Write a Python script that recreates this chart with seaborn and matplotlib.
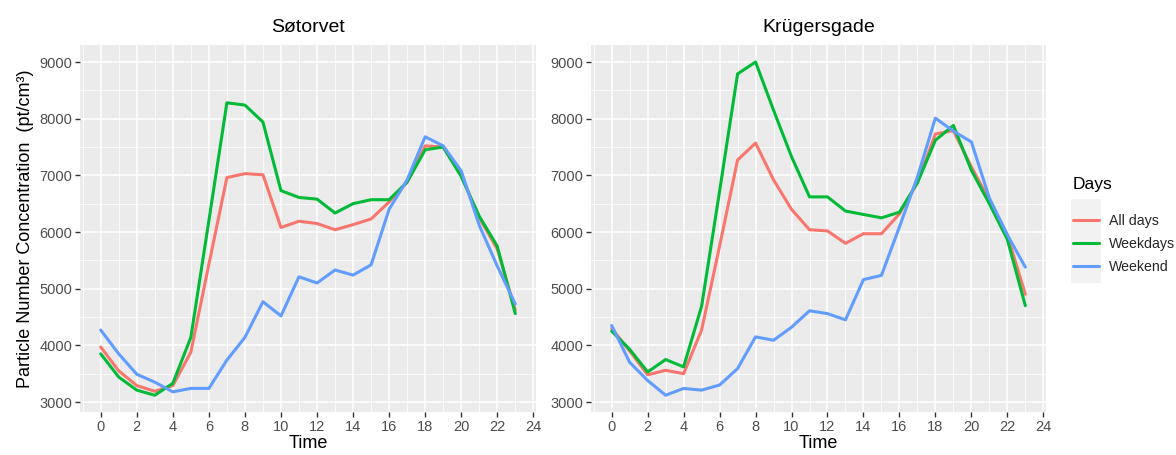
import numpy as np
import pandas as pd
import matplotlib
matplotlib.use("Agg")
import matplotlib.pyplot as plt
from matplotlib.patches import Rectangle
from matplotlib.ticker import MultipleLocator
import seaborn as sns

sns.set_theme(style="darkgrid")
plt.rcParams['font.family'] = ['Liberation Sans', 'DejaVu Sans']

hours = list(range(24))
days_levels = ["All days", "Weekdays", "Weekend"]
sites = ["Søtorvet", "Krügersgade"]

# Søtorvet
sot_all = [3970, 3550, 3290, 3190, 3290, 3880, 5430, 6960, 7030, 7010, 6080, 6190,
           6150, 6040, 6130, 6230, 6530, 6880, 7520, 7500, 7000, 6250, 5700, 4620]
sot_weekdays = [3850, 3440, 3210, 3120, 3330, 4140, 6200, 8280, 8240, 7940, 6730, 6610,
                6580, 6335, 6500, 6570, 6570, 6880, 7450, 7500, 6980, 6280, 5750, 4560]
sot_weekend = [4270, 3850, 3490, 3350, 3180, 3240, 3240, 3740, 4140, 4770, 4520, 5210,
               5100, 5330, 5240, 5420, 6400, 6920, 7680, 7520, 7080, 6120, 5400, 4730]

# Krügersgade
kru_all = [4300, 3900, 3480, 3560, 3500, 4270, 5750, 7270, 7570, 6920, 6400, 6040,
           6020, 5800, 5970, 5970, 6320, 6870, 7730, 7790, 7150, 6560, 5950, 4900]
kru_weekdays = [4250, 3930, 3530, 3750, 3620, 4690, 6720, 8790, 9000, 8150, 7330, 6620,
                6620, 6370, 6310, 6250, 6350, 6870, 7620, 7880, 7090, 6500, 5870, 4700]
kru_weekend = [4350, 3700, 3380, 3120, 3240, 3210, 3300, 3590, 4150, 4090, 4320, 4610,
               4560, 4450, 5160, 5235, 6090, 6970, 8010, 7780, 7590, 6600, 5950, 5380]

data = {
    "Søtorvet": [sot_all, sot_weekdays, sot_weekend],
    "Krügersgade": [kru_all, kru_weekdays, kru_weekend],
}

rows = []
for site in sites:
    for lvl, vals in zip(days_levels, data[site]):
        for h, v in zip(hours, vals):
            rows.append({"site": site, "Days": lvl, "Time": h, "PNC": v})
df = pd.DataFrame(rows)

palette = {"All days": "#F8766D", "Weekdays": "#00BA38", "Weekend": "#619CFF"}

W, H = 1176, 455
fig = plt.figure(figsize=(W / 100, H / 100), dpi=100)
fig.patch.set_facecolor("white")

panels = {
    "Søtorvet": [80 / W, 1 - 412 / H, 456 / W, 367 / H],
    "Krügersgade": [591 / W, 1 - 412 / H, 455 / W, 367 / H],
}

tick_col = "#4D4D4D"
axes = []
for site in sites:
    ax = fig.add_axes(panels[site])
    sub = df[df["site"] == site]
    sns.lineplot(data=sub, x="Time", y="PNC", hue="Days", hue_order=days_levels,
                 palette=palette, linewidth=2.2, ax=ax, legend=False)
    ax.set_facecolor("#EBEBEB")
    ax.set_xlim(-1.15, 24.15)
    ax.set_ylim(2824, 9300)
    ax.xaxis.set_major_locator(MultipleLocator(2))
    ax.xaxis.set_minor_locator(MultipleLocator(1))
    ax.yaxis.set_major_locator(MultipleLocator(1000))
    ax.yaxis.set_minor_locator(MultipleLocator(500))
    ax.grid(which="major", color="white", linewidth=1.1)
    ax.grid(which="minor", color="white", linewidth=0.55)
    ax.set_axisbelow(True)
    for s in ax.spines.values():
        s.set_visible(False)
    ax.tick_params(which="major", length=3.5, width=1, color="#333333",
                   labelsize=10.5, labelcolor=tick_col, pad=2,
                   bottom=True, left=True)
    ax.tick_params(which="minor", length=0)
    ax.set_xlabel("Time", fontsize=13, color="black", labelpad=1)
    ax.set_ylabel("")
    ax.set_title(site, fontsize=14, color="black", pad=9)
    axes.append(ax)

axes[0].set_ylabel("Particle Number Concentration  (pt/cm³)", fontsize=13,
                   color="black", labelpad=4)

# legend
handles = [plt.Line2D([], [], color=palette[l], linewidth=2.2) for l in days_levels]
fig.patches.append(Rectangle((1071 / W, 1 - 283 / H), 30 / W, 84 / H,
                             transform=fig.transFigure, facecolor="#F2F2F2",
                             edgecolor="none", zorder=0))
fig.text(1073 / W, 1 - 185 / H, "Days", fontsize=12.5, color="black",
         ha="left", va="center")
leg = fig.legend(handles, days_levels, loc="upper left",
                 bbox_to_anchor=(1073 / W, 1 - 214 / H), frameon=False,
                 fontsize=10.2, handlelength=1.8, borderpad=0,
                 handletextpad=0.72, labelspacing=0.62, borderaxespad=0)

fig.savefig("out.png", dpi=100, facecolor="white")
